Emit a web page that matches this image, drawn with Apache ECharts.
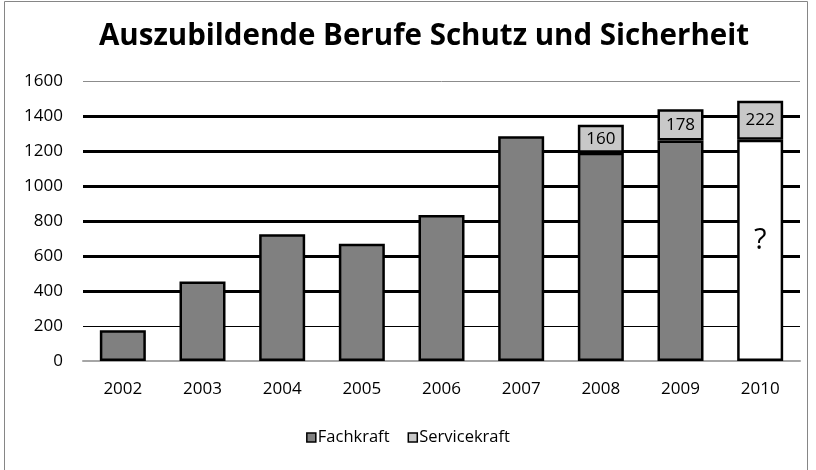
<!DOCTYPE html>
<html>
<head>
<meta charset="utf-8">
<script src="https://cdn.jsdelivr.net/npm/echarts@6/dist/echarts.min.js"></script>
<style>
  html, body { margin: 0; padding: 0; background: #fff; }
  #chart { width: 816px; height: 470px; }
</style>
</head>
<body>
<div id="chart"></div>
<script>
  // Daten
  var years = ["2002", "2003", "2004", "2005", "2006", "2007", "2008", "2009", "2010"];
  var fachkraft = [176, 455, 725, 670, 835, 1285, 1190, 1260, 1265];
  var servicekraft = [null, null, null, null, null, null, 160, 178, 222];
  var yTicks = [0, 200, 400, 600, 800, 1000, 1200, 1400, 1600];
  var thickLines = [400, 600, 800, 1000, 1200, 1400];

  var font = "Open Sans";
  var chart = echarts.init(document.getElementById("chart"));

  // letzter Wert (2010) ist unbekannt -> weiss mit "?"
  var fachData = fachkraft.map(function (v, i) {
    if (i === fachkraft.length - 1) {
      return {
        value: v,
        itemStyle: { color: "#ffffff" },
        label: { show: true, formatter: "?", fontSize: 29, color: "#000", offset: [0, -10] }
      };
    }
    return v;
  });

  // oberste Linie grau, die anderen schwarz
  var splitColors = yTicks.map(function (t) { return t === 1600 ? "#8c8c8c" : "#000"; });

  var option = {
    animation: false,
    textStyle: { fontFamily: font },
    graphic: [{
      type: "rect",
      shape: { x: 4.5, y: 1.5, width: 803, height: 475 },
      style: { fill: "none", stroke: "#868686", lineWidth: 1 },
      silent: true
    }],
    title: {
      text: "Auszubildende Berufe Schutz und Sicherheit",
      left: 94,
      top: 17,
      textStyle: { fontFamily: font, fontSize: 29.5, fontWeight: "bold", color: "#000" }
    },
    legend: {
      data: ["Fachkraft", "Servicekraft"],
      bottom: 19,
      left: "center",
      icon: "rect",
      itemWidth: 9,
      itemHeight: 9,
      itemGap: 18,
      itemStyle: { borderColor: "#000", borderWidth: 1.5 },
      textStyle: { fontFamily: font, fontSize: 16.5, color: "#000", padding: [0, 0, 0, -3] }
    },
    grid: {
      left: 83,
      right: 16,
      top: 81,
      bottom: 109
    },
    xAxis: {
      type: "category",
      data: years,
      axisTick: { show: false },
      axisLine: { lineStyle: { color: "#a6a6a6", width: 2 } },
      axisLabel: { fontSize: 17, color: "#000", margin: 20, fontFamily: font }
    },
    yAxis: {
      type: "value",
      min: 0,
      max: 1600,
      interval: 200,
      axisLine: { show: false },
      axisTick: { show: false },
      axisLabel: {
        fontSize: 17, color: "#000", margin: 20, fontFamily: font,
        formatter: function (v) { return String(v); }
      },
      splitLine: { lineStyle: { color: splitColors, width: 1 } }
    },
    series: [
      {
        name: "Fachkraft",
        type: "bar",
        stack: "gesamt",
        barWidth: 46,
        z: 3,
        itemStyle: { color: "#808080", borderColor: "#000", borderWidth: 2.5 },
        label: { show: false },
        data: fachData,
        markLine: {
          silent: true,
          symbol: "none",
          z: 1,
          label: { show: false },
          lineStyle: { color: "#000", width: 3, type: "solid" },
          data: thickLines.map(function (v) { return { yAxis: v }; })
        }
      },
      {
        name: "Servicekraft",
        type: "bar",
        stack: "gesamt",
        barWidth: 46,
        z: 3,
        itemStyle: { color: "#c8c8c8", borderColor: "#000", borderWidth: 2.5 },
        label: { show: true, position: "inside", fontSize: 17, color: "#000", fontFamily: font },
        data: servicekraft
      }
    ]
  };
  chart.setOption(option);
</script>
</body>
</html>
